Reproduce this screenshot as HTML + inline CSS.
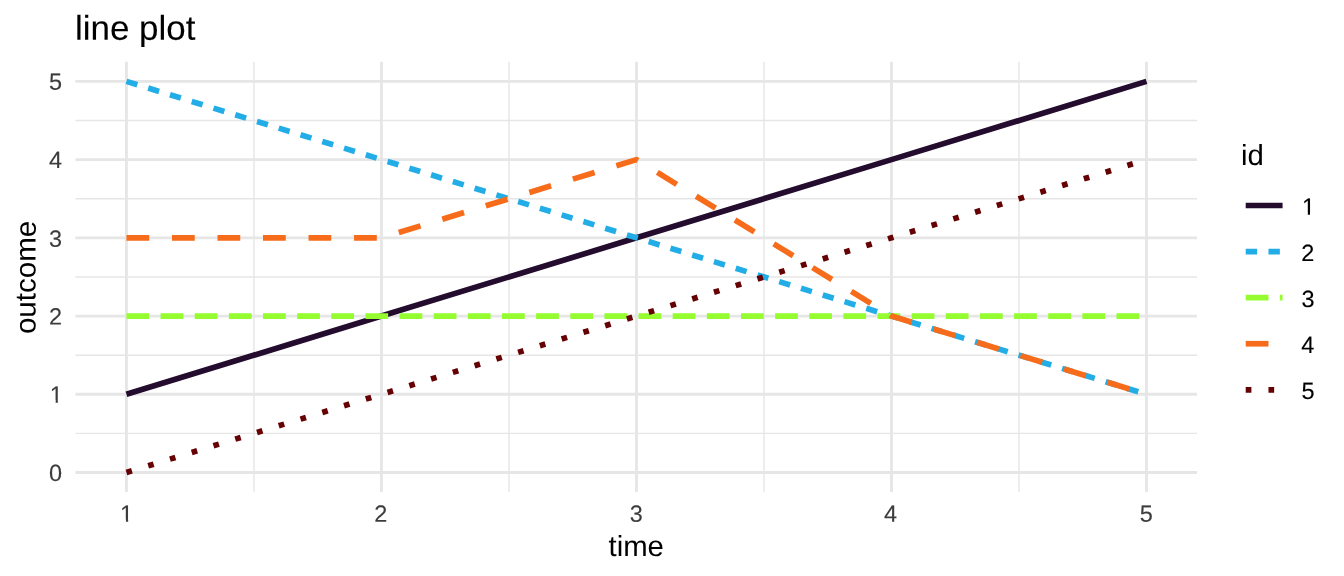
<!DOCTYPE html>
<html lang="en">
<head>
<meta charset="utf-8">
<title>line plot</title>
<style>
html,body{margin:0;padding:0;background:#fff;}
body{width:1344px;height:576px;overflow:hidden;}
svg{display:block;}
text{font-family:"Liberation Sans",Arial,Helvetica,sans-serif;text-rendering:geometricPrecision;}
.ax{font-size:23.47px;fill:#3C3C3C;stroke:#3C3C3C;stroke-width:0.12px;}
.lg{font-size:23.47px;fill:#000;stroke:#000;stroke-width:0.12px;}
.tt{font-size:29.33px;fill:#000;}
.title{font-size:34.5px;fill:#000;stroke:#000;stroke-width:0.1px;}
</style>
</head>
<body>
<svg width="1344" height="576" viewBox="0 0 1344 576">
<rect width="1344" height="576" fill="#fff"/>
<!-- minor grid -->
<g stroke="#E6E6E6" stroke-width="1.42" fill="none">
<line x1="75.40" x2="1197.00" y1="433.39" y2="433.39"/>
<line x1="75.40" x2="1197.00" y1="355.17" y2="355.17"/>
<line x1="75.40" x2="1197.00" y1="276.95" y2="276.95"/>
<line x1="75.40" x2="1197.00" y1="198.73" y2="198.73"/>
<line x1="75.40" x2="1197.00" y1="120.51" y2="120.51"/>
<line x1="253.96" x2="253.96" y1="61.85" y2="492.06"/>
<line x1="508.97" x2="508.97" y1="61.85" y2="492.06"/>
<line x1="763.98" x2="763.98" y1="61.85" y2="492.06"/>
<line x1="1018.99" x2="1018.99" y1="61.85" y2="492.06"/>
</g>
<!-- major grid -->
<g stroke="#E6E6E6" stroke-width="2.85" fill="none">
<line x1="75.40" x2="1197.00" y1="472.50" y2="472.50"/>
<line x1="75.40" x2="1197.00" y1="394.28" y2="394.28"/>
<line x1="75.40" x2="1197.00" y1="316.06" y2="316.06"/>
<line x1="75.40" x2="1197.00" y1="237.84" y2="237.84"/>
<line x1="75.40" x2="1197.00" y1="159.62" y2="159.62"/>
<line x1="75.40" x2="1197.00" y1="81.40" y2="81.40"/>
<line x1="126.45" x2="126.45" y1="61.85" y2="492.06"/>
<line x1="381.46" x2="381.46" y1="61.85" y2="492.06"/>
<line x1="636.48" x2="636.48" y1="61.85" y2="492.06"/>
<line x1="891.49" x2="891.49" y1="61.85" y2="492.06"/>
<line x1="1146.50" x2="1146.50" y1="61.85" y2="492.06"/>
</g>
<!-- data lines -->
<g fill="none" stroke-width="5.69" stroke-linejoin="round" stroke-linecap="butt">
<polyline points="126.45,394.28 381.46,316.06 636.48,237.84 891.49,159.62 1146.50,81.40" stroke="#230C2D"/>
<polyline points="126.45,81.40 381.46,159.62 636.48,237.84 891.49,316.06 1146.50,394.28" stroke="#23ADE7" stroke-dasharray="11.38 11.38"/>
<polyline points="126.45,316.06 381.46,316.06 636.48,316.06 891.49,316.06 1146.50,316.06" stroke="#95FD2F" stroke-dasharray="22.76 11.38"/>
<polyline points="126.45,237.84 381.46,237.84 636.48,159.62 891.49,316.06 1146.50,394.28" stroke="#F76C1A" stroke-dasharray="22.76 22.76"/>
<polyline points="126.45,472.50 381.46,394.28 636.48,316.06 891.49,237.84 1146.50,159.62" stroke="#660103" stroke-dasharray="5.69 17.07"/>
</g>
<!-- y axis labels -->
<text class="ax" text-anchor="end" transform="translate(62.10 480.90) rotate(0.05)">0</text>
<text class="ax" text-anchor="end" transform="translate(62.90 402.68) rotate(0.05)">1</text>
<rect x="50.33" y="400.43" width="5.35" height="3.05" fill="#fff"/><rect x="57.88" y="400.43" width="5.17" height="3.05" fill="#fff"/>
<text class="ax" text-anchor="end" transform="translate(62.10 324.46) rotate(0.05)">2</text>
<text class="ax" text-anchor="end" transform="translate(62.10 246.74) rotate(0.05)">3</text>
<text class="ax" text-anchor="end" transform="translate(62.10 168.02) rotate(0.05)">4</text>
<text class="ax" text-anchor="end" transform="translate(62.10 89.80) rotate(0.05)">5</text>
<!-- x axis labels -->
<text class="ax" text-anchor="middle" transform="translate(126.65 521.80) rotate(0.05)">1</text>
<rect x="120.61" y="519.55" width="5.35" height="3.05" fill="#fff"/><rect x="128.16" y="519.55" width="5.17" height="3.05" fill="#fff"/>
<text class="ax" text-anchor="middle" transform="translate(380.86 521.80) rotate(0.05)">2</text>
<text class="ax" text-anchor="middle" transform="translate(636.18 521.80) rotate(0.05)">3</text>
<text class="ax" text-anchor="middle" transform="translate(890.59 521.80) rotate(0.05)">4</text>
<text class="ax" text-anchor="middle" transform="translate(1146.20 521.80) rotate(0.05)">5</text>
<!-- axis titles -->
<text class="tt" text-anchor="middle" transform="translate(636.20 556.10) rotate(0.05) scale(1 0.988)">time</text>
<text class="tt" text-anchor="middle" transform="translate(35.60 277.40) rotate(-89.95) scale(1.008 0.988)">outcome</text>
<!-- plot title -->
<text class="title" transform="translate(75.00 39.70) rotate(0.05) scale(1.0131 1)">line plot</text>
<!-- legend -->
<text class="tt" transform="translate(1241.10 164.90) rotate(0.05) scale(1 0.988)">id</text>
<g fill="none" stroke-width="5.69" stroke-linecap="butt">
<line x1="1245.71" x2="1282.57" y1="205.50" y2="205.50" stroke="#230C2D"/>
<line x1="1245.71" x2="1282.57" y1="251.58" y2="251.58" stroke="#23ADE7" stroke-dasharray="11.38 11.38"/>
<line x1="1245.71" x2="1282.57" y1="297.66" y2="297.66" stroke="#95FD2F" stroke-dasharray="22.76 11.38"/>
<line x1="1245.71" x2="1282.57" y1="343.74" y2="343.74" stroke="#F76C1A" stroke-dasharray="22.76 22.76"/>
<line x1="1245.71" x2="1282.57" y1="389.82" y2="389.82" stroke="#660103" stroke-dasharray="5.69 17.07"/>
</g>
<text class="lg" transform="translate(1301.95 214.80) rotate(0.05)">1</text>
<rect x="1302.44" y="212.55" width="5.35" height="3.05" fill="#fff"/><rect x="1309.99" y="212.55" width="5.17" height="3.05" fill="#fff"/>
<text class="lg" transform="translate(1301.25 260.88) rotate(0.05)">2</text>
<text class="lg" transform="translate(1301.60 306.96) rotate(0.05)">3</text>
<text class="lg" transform="translate(1301.25 353.04) rotate(0.05)">4</text>
<text class="lg" transform="translate(1301.45 399.12) rotate(0.05)">5</text>
</svg>
</body>
</html>
